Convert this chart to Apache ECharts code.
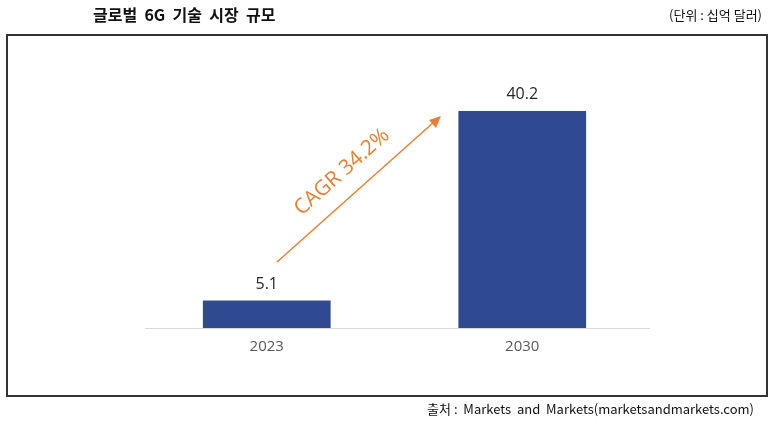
<!DOCTYPE html>
<html>
<head>
<meta charset="utf-8">
<script src="https://cdn.jsdelivr.net/npm/echarts@6/dist/echarts.min.js"></script>
<style>
  html, body { margin: 0; padding: 0; background: #fff; }
  #chart { width: 776px; height: 428px; }
</style>
</head>
<body>
<div id="chart"></div>
<script>
const categories = ['2023', '2030'];
const marketSize = [5.1, 40.2];
const cagrText = 'CAGR 34.2%';

const chart = echarts.init(document.getElementById('chart'));
const KR = '"Noto Sans CJK KR", sans-serif';

const option = {
  animation: false,
  grid: { left: 139, right: 126, top: 58, bottom: 100 },
  xAxis: {
    type: 'category',
    data: categories,
    axisLine: { show: false },
    axisTick: { show: false },
    axisLabel: { color: '#595959', fontSize: 15, fontFamily: 'Open Sans', margin: 11 }
  },
  yAxis: {
    type: 'value',
    min: 0,
    max: 50,
    show: false
  },
  series: [{
    type: 'bar',
    data: marketSize,
    barWidth: '50%',
    itemStyle: { color: '#2f4a91' },
    label: {
      show: true,
      position: 'top',
      distance: 8,
      color: '#262626',
      fontSize: 16,
      fontFamily: 'Open Sans'
    }
  }],
  graphic: [
    {
      type: 'rect',
      shape: { x: 7, y: 35, width: 760, height: 361 },
      style: { fill: 'none', stroke: '#333', lineWidth: 2 },
      silent: true
    },
    {
      type: 'line', z: 0,
      shape: { x1: 145, y1: 328.5, x2: 650, y2: 328.5 },
      style: { stroke: '#d9d9d9', lineWidth: 1 }
    },
    {
      type: 'text', left: 93, top: 7,
      style: { text: '글로벌  6G  기술  시장  규모', font: 'bold 16px ' + KR, fill: '#111' }
    },
    {
      type: 'text', right: 14, top: 9,
      style: { text: '(단위 : 십억 달러)', font: '13px ' + KR, fill: '#111' }
    },
    {
      type: 'text', right: 22, top: 403,
      style: { text: '출처 :  Markets  and  Markets(marketsandmarkets.com)', font: '13px ' + KR, fill: '#111' }
    },
    {
      type: 'line',
      shape: { x1: 277, y1: 262, x2: 434, y2: 122 },
      style: { stroke: '#ed7d31', lineWidth: 1.5 }
    },
    {
      type: 'polygon',
      shape: { points: [[441, 116], [429, 120], [436, 128]] },
      style: { fill: '#ed7d31' }
    },
    {
      type: 'text',
      x: 342, y: 172,
      rotation: 41.6 * Math.PI / 180,
      style: {
        text: cagrText,
        font: '21px "Open Sans"',
        fill: '#ed7d31',
        align: 'center',
        verticalAlign: 'middle'
      }
    }
  ]
};

chart.setOption(option);
</script>
</body>
</html>
